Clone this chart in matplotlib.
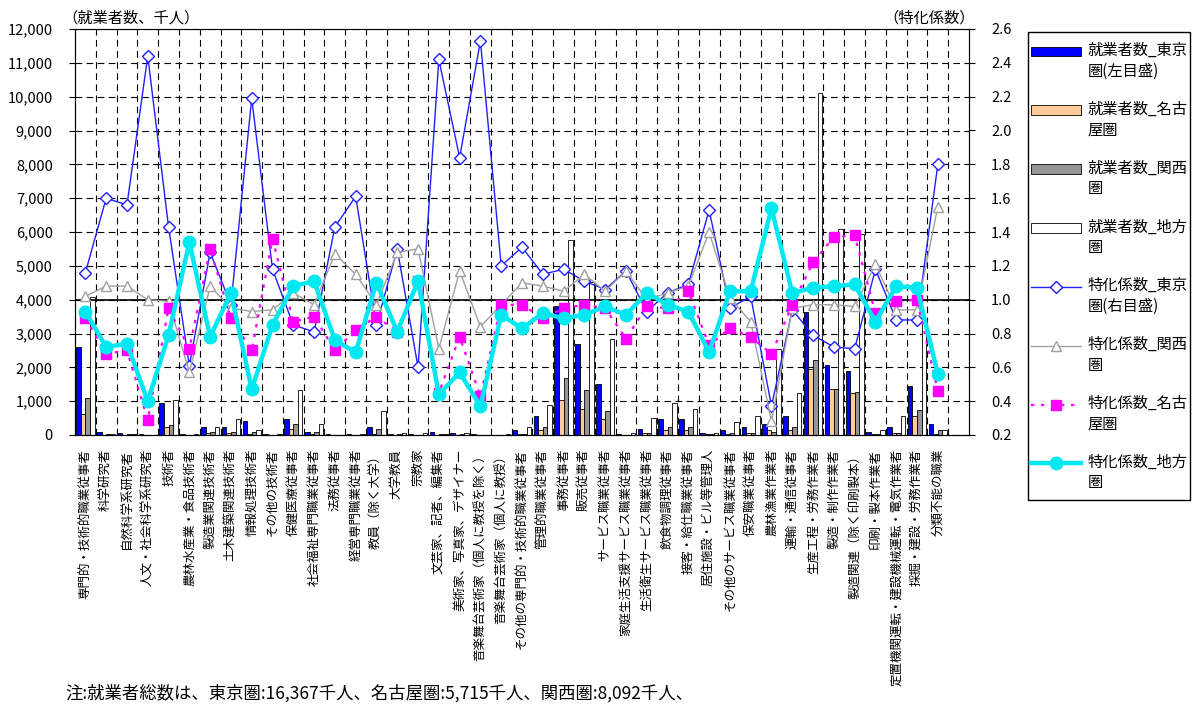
import matplotlib
matplotlib.use('Agg')
import matplotlib.pyplot as plt
import numpy as np
from matplotlib.patches import Rectangle
from matplotlib.ticker import FuncFormatter

plt.rcParams['font.family'] = ['Noto Sans CJK JP', 'DejaVu Sans']

# Occupation categories (x axis)
categories = [
    '専門的・技術的職業従事者', '科学研究者', '自然科学系研究者', '人文・社会科学系研究者', '技術者',
    '農林水産業・食品技術者', '製造業関連技術者', '土木建築関連技術者', '情報処理技術者', 'その他の技術者',
    '保健医療従事者', '社会福祉専門職業従事者', '法務従事者', '経営専門職業従事者', '教員（除く大学）',
    '大学教員', '宗教家', '文芸家、記者、編集者', '美術家、写真家、デザイナー', '音楽舞台芸術家（個人に教授を除く）',
    '音楽舞台芸術家（個人に教授）', 'その他の専門的・技術的職業従事者', '管理的職業従事者', '事務従事者', '販売従事者',
    'サービス職業従事者', '家庭生活支援サービス職業従事者', '生活衛生サービス職業従事者', '飲食物調理従事者', '接客・給仕職業従事者',
    '居住施設・ビル等管理人', 'その他のサービス職業従事者', '保安職業従事者', '農林漁業作業者', '運輸・通信従事者',
    '生産工程・労務作業者', '製造・制作作業者', '製造関連（除く印刷製本）', '印刷・製本作業者', '定置機関運転・建設機械運転・電気作業者',
    '採掘・建設・労務作業者', '分類不能の職業',
]

# Employed persons (thousand), left axis
tokyo_emp = [2600, 80, 60, 15, 950, 15, 240, 240, 410, 20,
             480, 80, 15, 30, 245, 40, 20, 80, 70, 30,
             10, 160, 560, 3800, 2680, 1500, 20, 170, 470, 480,
             60, 160, 240, 320, 560, 3630, 2060, 1900, 100, 240,
             1440, 320]
nagoya_emp = [630, 10, 8, 1, 240, 5, 70, 70, 30, 8,
              170, 20, 3, 5, 40, 10, 5, 10, 10, 5,
              3, 20, 160, 1020, 780, 470, 5, 50, 160, 160,
              15, 30, 50, 160, 160, 1965, 1350, 1250, 30, 70,
              560, 30]
kansai_emp = [1100, 20, 15, 3, 310, 5, 80, 80, 80, 10,
              320, 80, 5, 10, 170, 20, 10, 20, 20, 10,
              8, 40, 240, 1670, 1340, 710, 10, 60, 250, 240,
              25, 60, 60, 80, 240, 2210, 1350, 1260, 40, 70,
              730, 160]
chiho_emp = [4090, 30, 25, 3, 1030, 20, 250, 480, 160, 25,
             1340, 320, 8, 15, 720, 60, 50, 20, 60, 5,
             20, 240, 880, 5760, 4520, 2850, 50, 490, 950, 780,
             50, 395, 560, 2540, 1250, 10100, 6080, 5940, 160, 560,
             3300, 160]

# Specialization coefficients, right axis
tokyo_coef = [1.16, 1.60, 1.56, 2.44, 1.43, 0.61, 1.28, 0.97, 2.19, 1.18,
              0.85, 0.81, 1.43, 1.61, 0.85, 1.30, 0.60, 2.42, 1.84, 2.53,
              1.20, 1.31, 1.15, 1.18, 1.11, 1.06, 1.17, 0.93, 1.04, 1.09,
              1.53, 0.95, 1.02, 0.37, 0.94, 0.79, 0.72, 0.71, 1.18, 0.88,
              0.88, 1.80]
kansai_coef = [1.02, 1.08, 1.08, 1.00, 0.99, 0.57, 1.08, 0.95, 0.93, 0.94,
               1.04, 0.97, 1.27, 1.15, 0.97, 1.28, 1.30, 0.71, 1.17, 0.84,
               0.97, 1.10, 1.08, 1.05, 1.15, 1.05, 1.17, 1.00, 1.04, 1.08,
               1.40, 1.01, 0.87, 0.28, 0.95, 0.97, 0.97, 0.96, 1.21, 0.94,
               0.94, 1.55]
nagoya_coef = [0.89, 0.68, 0.70, 0.29, 0.95, 0.71, 1.30, 0.89, 0.70, 1.36,
               0.87, 0.90, 0.70, 0.82, 0.90, 0.81, 1.11, 0.45, 0.78, 0.43,
               0.97, 0.97, 0.89, 0.95, 0.97, 0.95, 0.77, 0.96, 0.95, 1.05,
               0.73, 0.83, 0.78, 0.68, 0.97, 1.22, 1.37, 1.38, 0.92, 0.99,
               1.00, 0.46]
chiho_coef = [0.93, 0.72, 0.74, 0.40, 0.79, 1.34, 0.78, 1.04, 0.47, 0.85,
              1.08, 1.11, 0.76, 0.69, 1.10, 0.81, 1.11, 0.44, 0.57, 0.37,
              0.91, 0.83, 0.92, 0.89, 0.91, 0.96, 0.91, 1.04, 0.97, 0.93,
              0.69, 1.05, 1.05, 1.54, 1.04, 1.07, 1.08, 1.09, 0.87, 1.08,
              1.07, 0.56]

left_ticks = list(range(0, 12001, 1000))
right_ticks = [0.2, 0.4, 0.6, 0.8, 1.0, 1.2, 1.4, 1.6, 1.8, 2.0, 2.2, 2.4, 2.6]

bar_labels = ['就業者数_東京\n圏(左目盛)', '就業者数_名古\n屋圏', '就業者数_関西\n圏', '就業者数_地方\n圏']
line_labels = ['特化係数_東京\n圏(右目盛)', '特化係数_関西\n圏', '特化係数_名古\n屋圏', '特化係数_地方\n圏']

W, H = 1200, 704
fig = plt.figure(figsize=(W / 100, H / 100), dpi=100)
ax = fig.add_axes([75 / W, 1 - 435 / H, (969 - 75) / W, (435 - 29) / H])

x = np.arange(len(categories))
bw = 0.22
bars = []
for k, (vals, col) in enumerate(zip([tokyo_emp, nagoya_emp, kansai_emp, chiho_emp],
                                    ['#0000FF', '#FFCC99', '#969696', '#FFFFFF'])):
    b = ax.bar(x + (k - 1.5) * bw, vals, bw, color=col, edgecolor='black', linewidth=0.6, zorder=2)
    bars.append(b)

ax.set_xlim(-0.5, len(categories) + 0.5)
ax.set_ylim(0, 12000)
ax.set_yticks(left_ticks)
ax.yaxis.set_major_formatter(FuncFormatter(lambda v, p: f'{int(v):,}'))
ax.set_xticks(x)
ax.set_xticklabels(categories, rotation=90, va='top', ha='center', fontsize=9)
ax.set_xticks(np.arange(len(categories)) + 0.5, minor=True)
ax.tick_params(axis='x', which='both', length=0, pad=10)
ax.tick_params(axis='y', labelsize=10.5, length=4, pad=12)
ax.set_axisbelow(True)
ax.grid(axis='y', which='major', color='black', linestyle=(0, (6, 4)), linewidth=0.8)
ax.grid(axis='x', which='minor', color='black', linestyle=(0, (6, 4)), linewidth=0.8)
ax.spines['top'].set_color('#808080')

ax2 = ax.twinx()
ax2.set_ylim(0.2, 2.6)
ax2.set_yticks(right_ticks)
ax2.yaxis.set_major_formatter(FuncFormatter(lambda v, p: f'{v:.1f}'))
ax2.tick_params(axis='y', labelsize=10.5, length=4, pad=12)
ax2.axhline(1.0, color='black', linewidth=1.2, zorder=1)

xs = np.arange(len(tokyo_coef))
l1, = ax2.plot(xs, tokyo_coef, color='#2020FF', lw=1.0, marker='D', ms=6.5,
               mfc='white', mec='#2020FF', mew=1.0, zorder=3)
l2, = ax2.plot(xs, kansai_coef, color='#A0A0A0', lw=1.0, marker='^', ms=7,
               mfc='white', mec='#A0A0A0', mew=1.0, zorder=3)
l3, = ax2.plot(xs, nagoya_coef, color='#FF00FF', lw=1.6, linestyle=(0, (1.5, 3)),
               marker='s', ms=7.5, mfc='#FF00FF', mec='#FF00FF', zorder=4)
l4, = ax2.plot(xs, chiho_coef, color='#00E8F0', lw=3.2, marker='o', ms=9,
               mfc='#00E8F0', mec='#00E8F0', zorder=5)

fig.text(62 / W, 1 - 18 / H, '（就業者数、千人）', fontsize=11, ha='left', va='center')
fig.text(975 / W, 1 - 18 / H, '（特化係数）', fontsize=11, ha='right', va='center')
fig.text(65 / W, 1 - 693 / H, '注:就業者総数は、東京圏:16,367千人、名古屋圏:5,715千人、関西圏:8,092千人、',
         fontsize=12.5, ha='left', va='center')

handles = bars + [l1, l2, l3, l4]
labels = ['\n' + s for s in bar_labels + line_labels]
leg = fig.legend(handles, labels, loc='upper left', bbox_to_anchor=(1031 / W, 1 - 21 / H),
                 frameon=False, fontsize=11, handlelength=3.3, handleheight=0.6,
                 handletextpad=0.4, labelspacing=0.0, borderpad=0, borderaxespad=0)
for t in leg.get_texts():
    t.set_linespacing(1.3)
fig.add_artist(Rectangle((1028 / W, 1 - 500 / H), (1190 - 1028) / W, (500 - 32) / H,
                         transform=fig.transFigure, fill=False, edgecolor='black', linewidth=1))

fig.savefig('out.png', dpi=100)
